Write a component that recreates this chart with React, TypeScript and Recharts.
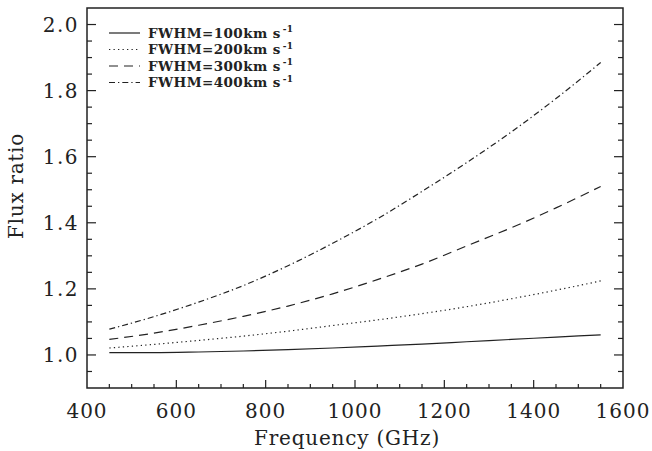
import React from 'react';
import { LineChart, Line, XAxis, YAxis, ReferenceArea } from 'recharts';

const frequencies = [450, 550, 650, 750, 850, 950, 1050, 1150, 1250, 1350, 1450, 1550];
const fwhm100 = [1.007, 1.007, 1.009, 1.012, 1.016, 1.021, 1.027, 1.033, 1.040, 1.047, 1.054, 1.061];
const fwhm200 = [1.021, 1.032, 1.044, 1.057, 1.072, 1.089, 1.106, 1.125, 1.146, 1.170, 1.196, 1.224];
const fwhm300 = [1.047, 1.066, 1.090, 1.117, 1.148, 1.185, 1.228, 1.275, 1.330, 1.385, 1.445, 1.510];
const fwhm400 = [1.078, 1.116, 1.160, 1.210, 1.270, 1.338, 1.412, 1.495, 1.582, 1.675, 1.776, 1.885];

const seriesNames = ['FWHM=100km s', 'FWHM=200km s', 'FWHM=300km s', 'FWHM=400km s'];
const seriesKeys = ['f100', 'f200', 'f300', 'f400'];
const seriesDash = ['', '1.3 3.2', '9 6', '6 3 1.3 3'];

const xTicks = [400, 450, 500, 550, 600, 650, 700, 750, 800, 850, 900, 950, 1000, 1050, 1100, 1150, 1200, 1250, 1300, 1350, 1400, 1450, 1500, 1550, 1600];
const yTicks = [0.95, 1.0, 1.05, 1.1, 1.15, 1.2, 1.25, 1.3, 1.35, 1.4, 1.45, 1.5, 1.55, 1.6, 1.65, 1.7, 1.75, 1.8, 1.85, 1.9, 1.95, 2.0];

const data = frequencies.map((f, i) => ({
  freq: f,
  f100: fwhm100[i],
  f200: fwhm200[i],
  f300: fwhm300[i],
  f400: fwhm400[i],
}));

const INK = '#222';
const FONT = 'DejaVu Serif';

const XTick = (props: any) => {
  const { x, y, payload, side } = props;
  const v = payload.value as number;
  const major = v % 200 === 0;
  const len = major ? 8 : 4;
  const dir = side === 'bottom' ? -1 : 1;
  const edge = v === 400 || v === 1600;
  return (
    <g>
      {!edge && <line x1={x} x2={x} y1={y} y2={y + dir * len} stroke={INK} strokeWidth={1.2} />}
      {side === 'bottom' && major && (
        <text x={x} y={y + 30} textAnchor="middle" fontFamily={FONT} fontSize={20} letterSpacing={1} fill={INK}>
          {v}
        </text>
      )}
    </g>
  );
};

const YTick = (props: any) => {
  const { x, y, payload, side } = props;
  const v = payload.value as number;
  const major = Math.abs(v / 0.2 - Math.round(v / 0.2)) < 1e-6;
  const len = major ? 9 : 5;
  const dir = side === 'left' ? 1 : -1;
  return (
    <g>
      <line x1={x} x2={x + dir * len} y1={y} y2={y} stroke={INK} strokeWidth={1.2} />
      {side === 'left' && major && (
        <text x={x - 8} y={y} dy="0.36em" textAnchor="end" fontFamily={FONT} fontSize={20} letterSpacing={1.5} fill={INK}>
          {v.toFixed(1)}
        </text>
      )}
    </g>
  );
};

const LegendBox = () => {
  const x0 = 109;
  const x1 = 140;
  const tx = 148;
  const y0 = 33;
  const dy = 16.5;
  return (
    <g>
      {seriesNames.map((name, i) => (
        <g key={name}>
          <line x1={x0} x2={x1} y1={y0 + i * dy} y2={y0 + i * dy} stroke={INK} strokeWidth={1.2} strokeDasharray={seriesDash[i] || undefined} />
          <text x={tx} y={y0 + i * dy} dy="0.36em" fontFamily={FONT} fontSize={13.5} fontWeight="bold" fill={INK} letterSpacing={0.4}>
            {name}
            <tspan fontSize={9} dy="-0.6em" dx="2">-1</tspan>
          </text>
        </g>
      ))}
    </g>
  );
};

export default function App() {
  return (
    <div style={{ position: 'absolute', left: 0, top: 0, width: 652, height: 451, background: '#fff' }}>
      <LineChart width={652} height={451} data={data} margin={{ top: 7, right: 28, bottom: 62, left: 86 }}>
        <XAxis
          dataKey="freq"
          type="number"
          domain={[400, 1600]}
          allowDataOverflow
          ticks={xTicks}
          interval={0}
          height={1}
          tickSize={0}
          tickMargin={0}
          axisLine={false}
          tickLine={false}
          tick={<XTick side="bottom" />}
        />
        <XAxis
          xAxisId="top"
          orientation="top"
          type="number"
          domain={[400, 1600]}
          allowDataOverflow
          ticks={xTicks}
          interval={0}
          height={1}
          tickSize={0}
          tickMargin={0}
          axisLine={false}
          tickLine={false}
          tick={<XTick side="top" />}
        />
        <YAxis
          type="number"
          domain={[0.9, 2.05]}
          allowDataOverflow
          ticks={yTicks}
          interval={0}
          width={1}
          tickSize={0}
          tickMargin={0}
          axisLine={false}
          tickLine={false}
          tick={<YTick side="left" />}
        />
        <YAxis
          yAxisId="right"
          orientation="right"
          type="number"
          domain={[0.9, 2.05]}
          allowDataOverflow
          ticks={yTicks}
          interval={0}
          width={1}
          tickSize={0}
          tickMargin={0}
          axisLine={false}
          tickLine={false}
          tick={<YTick side="right" />}
        />
        {seriesKeys.map((k, i) => (
          <Line
            key={k}
            dataKey={k}
            type="monotone"
            stroke={INK}
            strokeWidth={1.2}
            strokeDasharray={seriesDash[i] || undefined}
            dot={false}
            activeDot={false}
            isAnimationActive={false}
          />
        ))}
        <ReferenceArea x1={400} x2={1600} y1={0.9} y2={2.05} fill="none" stroke={INK} strokeWidth={1.5} />
        <text x={347} y={445} textAnchor="middle" fontFamily={FONT} fontSize={20} letterSpacing={0.8} fill={INK}>
          Frequency (GHz)
        </text>
        <text
          x={16}
          y={186}
          transform="rotate(-90 16 186)"
          textAnchor="middle"
          dy="0.36em"
          fontFamily={FONT}
          fontSize={20}
          letterSpacing={0.7}
          fill={INK}
        >
          Flux ratio
        </text>
        <LegendBox />
      </LineChart>
    </div>
  );
}
